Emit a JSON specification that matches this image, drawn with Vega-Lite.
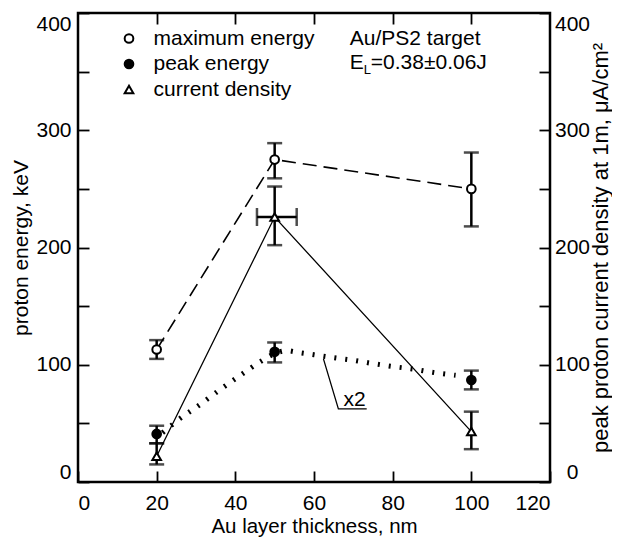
{
  "$schema": "https://vega.github.io/schema/vega-lite/v6.json",
  "width": 472,
  "height": 469,
  "padding": {"left": 10, "top": 12, "right": 0, "bottom": 0},
  "background": "white",
  "config": {
    "font": "Liberation Sans",
    "view": {"stroke": "black", "strokeWidth": 2.5},
    "axis": {
      "grid": false, "domain": false, "tickColor": "black", "tickWidth": 1.8, "tickSize": -11,
      "labelColor": "black", "titleColor": "black", "labelFontSize": 21, "titleFontSize": 20.5,
      "titleFontWeight": "normal", "labelFont": "Liberation Sans", "titleFont": "Liberation Sans", "labelOverlap": false
    }
  },
  "datasets": {
    "points": [
      {"series": "maximum energy", "x": 20, "y": 113, "lo": 105, "hi": 121},
      {"series": "maximum energy", "x": 50, "y": 275, "lo": 259, "hi": 289},
      {"series": "maximum energy", "x": 100, "y": 250, "lo": 218, "hi": 281},
      {"series": "peak energy", "x": 20, "y": 41, "lo": 33, "hi": 48},
      {"series": "peak energy", "x": 50, "y": 111, "lo": 102, "hi": 119},
      {"series": "peak energy", "x": 100, "y": 87, "lo": 79, "hi": 95},
      {"series": "current density", "x": 20, "y": 22, "lo": 15, "hi": 33},
      {"series": "current density", "x": 50, "y": 226, "lo": 202, "hi": 252},
      {"series": "current density", "x": 100, "y": 43, "lo": 28, "hi": 60}
    ],
    "xerr": [{"x": 50, "y": 226, "lo": 45.5, "hi": 55.6}],
    "fit": [
      {"x": 21.5, "y": 42}, {"x": 25.5, "y": 53}, {"x": 31, "y": 66}, {"x": 36, "y": 78.5},
      {"x": 41.5, "y": 91.5}, {"x": 47, "y": 104}, {"x": 50, "y": 109.5}, {"x": 53, "y": 112},
      {"x": 56, "y": 110.5}, {"x": 60, "y": 108.5}, {"x": 65, "y": 106}, {"x": 70, "y": 103.8},
      {"x": 75, "y": 101}, {"x": 80, "y": 98.5}, {"x": 85, "y": 96.4}, {"x": 90.7, "y": 93.2}, {"x": 96, "y": 91}
    ],
    "leader": [{"x": 62.4, "y": 105}, {"x": 66.2, "y": 62.4}, {"x": 73.4, "y": 62.4}]
  },
  "data": {"name": "points"},
  "encoding": {
    "x": {"field": "x", "type": "quantitative", "scale": {"domain": [0, 120], "nice": false, "zero": false}, "axis": null},
    "y": {"field": "y", "type": "quantitative", "scale": {"domain": [0, 400], "nice": false, "zero": false}, "axis": null}
  },
  "layer": [
    {
      "transform": [{"filter": "datum.series === 'maximum energy'"}],
      "mark": {"type": "line", "color": "black", "strokeWidth": 1.6, "strokeDash": [14, 7]},
      "encoding": {
        "x": {"field": "x", "type": "quantitative", "scale": {"domain": [0, 120], "nice": false, "zero": false},
          "axis": {"orient": "bottom", "title": "Au layer thickness, nm", "values": [0, 20, 40, 60, 80, 100, 120], "labelPadding": 21, "titlePadding": 3}},
        "y": {"field": "y", "type": "quantitative", "scale": {"domain": [0, 400], "nice": false, "zero": false},
          "axis": {"orient": "left", "title": "proton energy, keV", "titleFontSize": 21, "values": [0, 50, 100, 150, 200, 250, 300, 350, 400],
            "labelExpr": "datum.value % 100 === 0 ? datum.label : ''", "labelFlush": true, "labelPadding": 18, "titlePadding": 4}}
      }
    },
    {
      "transform": [{"filter": "datum.series === 'current density'"}],
      "mark": {"type": "line", "color": "black", "strokeWidth": 1.3},
      "encoding": {
        "x": {"field": "x", "type": "quantitative", "scale": {"domain": [0, 120], "nice": false, "zero": false},
          "axis": {"orient": "top", "title": null, "labels": false, "values": [20, 40, 60, 80, 100]}},
        "y": {"field": "y", "type": "quantitative", "scale": {"domain": [0, 400], "nice": false, "zero": false},
          "axis": {"orient": "right", "title": "peak proton current density at 1m, μA/cm²", "titleAngle": 270, "titleBaseline": "top",
            "titleFontSize": 22, "values": [0, 50, 100, 150, 200, 250, 300, 350, 400],
            "labelExpr": "datum.value % 100 === 0 ? datum.label : ''", "labelFlush": true, "labelAlign": "center",
            "labelPadding": 33, "titlePadding": 1}}
      }
    },
    {
      "data": {"name": "fit"},
      "mark": {"type": "line", "color": "black", "strokeWidth": 5, "strokeDash": [2, 9], "interpolate": "monotone"}
    },
    {
      "mark": {"type": "rule", "color": "black", "strokeWidth": 2.5},
      "encoding": {"y": {"field": "lo", "type": "quantitative", "scale": {"domain": [0, 400], "nice": false, "zero": false}, "axis": null}, "y2": {"field": "hi"}}
    },
    {
      "transform": [{"fold": ["lo", "hi"], "as": ["k", "v"]}],
      "mark": {"type": "tick", "color": "black", "orient": "horizontal", "size": 15, "thickness": 2.5},
      "encoding": {"y": {"field": "v", "type": "quantitative", "scale": {"domain": [0, 400], "nice": false, "zero": false}, "axis": null}}
    },
    {
      "data": {"name": "xerr"},
      "mark": {"type": "rule", "color": "black", "strokeWidth": 2.5},
      "encoding": {"x": {"field": "lo", "type": "quantitative", "scale": {"domain": [0, 120], "nice": false, "zero": false}, "axis": null}, "x2": {"field": "hi"}}
    },
    {
      "data": {"name": "xerr"},
      "transform": [{"fold": ["lo", "hi"], "as": ["k", "v"]}],
      "mark": {"type": "tick", "color": "black", "orient": "vertical", "size": 18, "thickness": 2.5},
      "encoding": {"x": {"field": "v", "type": "quantitative", "scale": {"domain": [0, 120], "nice": false, "zero": false}, "axis": null}}
    },
    {
      "data": {"name": "leader"},
      "mark": {"type": "line", "color": "black", "strokeWidth": 1.3}
    },
    {
      "mark": {"type": "point", "filled": true, "stroke": "black", "strokeWidth": 2, "opacity": 1},
      "encoding": {
        "shape": {"field": "series", "type": "nominal",
          "scale": {"domain": ["maximum energy", "peak energy", "current density"], "range": ["circle", "circle", "triangle-up"]},
          "legend": {"orient": "none", "legendX": 40.5, "legendY": 15, "title": null, "labelFontSize": 21, "labelColor": "black",
            "labelFont": "Liberation Sans", "labelLimit": 400, "symbolStrokeColor": "black", "symbolStrokeWidth": 2, "labelOffset": 14, "rowPadding": 3.5, "padding": 0}},
        "fill": {"field": "series", "type": "nominal",
          "scale": {"domain": ["maximum energy", "peak energy", "current density"], "range": ["white", "black", "white"]}},
        "size": {"field": "series", "type": "nominal",
          "scale": {"domain": ["maximum energy", "peak energy", "current density"], "range": [75, 75, 150]}}
      }
    },
    {
      "data": {"values": [{"x": 69.1, "y": 372.5, "t": "Au/PS2 target"}, {"x": 67.5, "y": 64.5, "t": "x2"}]},
      "mark": {"type": "text", "align": "left", "baseline": "alphabetic", "fontSize": 21, "color": "black"},
      "encoding": {"text": {"field": "t"}}
    },
    {
      "data": {"values": [{"x": 69.1, "y": 352, "t": "E"}]},
      "mark": {"type": "text", "align": "left", "baseline": "alphabetic", "fontSize": 21, "color": "black"},
      "encoding": {"text": {"field": "t"}}
    },
    {
      "data": {"values": [{"x": 69.1, "y": 352, "t": "L"}]},
      "mark": {"type": "text", "align": "left", "baseline": "alphabetic", "fontSize": 13, "dx": 14, "dy": 5, "color": "black"},
      "encoding": {"text": {"field": "t"}}
    },
    {
      "data": {"values": [{"x": 69.1, "y": 352, "t": "=0.38±0.06J"}]},
      "mark": {"type": "text", "align": "left", "baseline": "alphabetic", "fontSize": 21, "dx": 21, "color": "black"},
      "encoding": {"text": {"field": "t"}}
    }
  ],
  "resolve": {"axis": {"x": "independent", "y": "independent"}}
}
